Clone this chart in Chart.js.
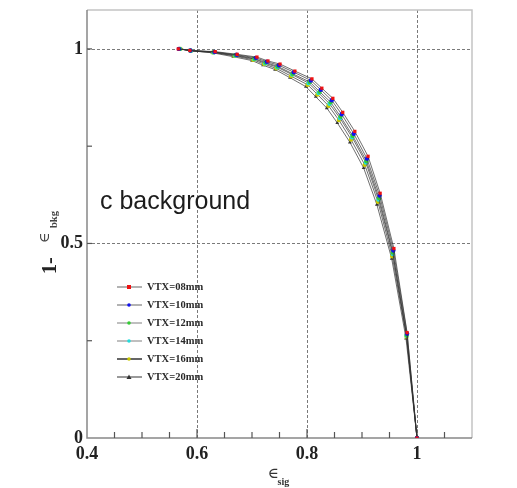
<!DOCTYPE html>
<html>
<head>
<meta charset="utf-8">
<script src="https://cdn.jsdelivr.net/npm/chart.js@4.4.1/dist/chart.umd.min.js"></script>
<style>
  html, body { margin: 0; padding: 0; background: #fff; }
  canvas { display: block; }
</style>
</head>
<body>
<canvas id="effChart" width="517" height="488"></canvas>
<script>
// series labels (VTX cut)
const seriesLabels = ['VTX=08mm', 'VTX=10mm', 'VTX=12mm', 'VTX=14mm', 'VTX=16mm', 'VTX=20mm'];

// signal efficiency (x) and 1 - background efficiency (y)
const x08 = [0.566, 0.587, 0.633, 0.673, 0.709, 0.729, 0.751, 0.778, 0.809, 0.827, 0.847, 0.865, 0.887, 0.911, 0.933, 0.958, 0.982, 1.0];
const y08 = [1.0, 0.996, 0.993, 0.986, 0.979, 0.969, 0.961, 0.943, 0.923, 0.899, 0.873, 0.837, 0.788, 0.724, 0.629, 0.487, 0.271, 0.0];

const x10 = [0.567, 0.588, 0.632, 0.672, 0.707, 0.727, 0.749, 0.776, 0.807, 0.825, 0.845, 0.863, 0.885, 0.909, 0.932, 0.957, 0.982, 1.0];
const y10 = [1.0, 0.996, 0.992, 0.985, 0.977, 0.967, 0.958, 0.940, 0.919, 0.895, 0.868, 0.832, 0.782, 0.718, 0.623, 0.482, 0.268, 0.0];

const x12 = [0.568, 0.588, 0.631, 0.670, 0.705, 0.725, 0.747, 0.774, 0.805, 0.823, 0.843, 0.861, 0.883, 0.908, 0.931, 0.956, 0.981, 1.0];
const y12 = [1.0, 0.996, 0.992, 0.984, 0.975, 0.965, 0.955, 0.936, 0.915, 0.890, 0.863, 0.826, 0.777, 0.712, 0.617, 0.477, 0.265, 0.0];

const x14 = [0.569, 0.589, 0.630, 0.669, 0.704, 0.724, 0.746, 0.773, 0.803, 0.821, 0.841, 0.860, 0.882, 0.907, 0.930, 0.956, 0.981, 1.0];
const y14 = [1.0, 0.995, 0.991, 0.983, 0.974, 0.963, 0.953, 0.934, 0.912, 0.887, 0.859, 0.822, 0.773, 0.708, 0.613, 0.473, 0.263, 0.0];

const x16 = [0.570, 0.589, 0.629, 0.668, 0.702, 0.722, 0.744, 0.771, 0.801, 0.819, 0.839, 0.858, 0.880, 0.905, 0.929, 0.955, 0.981, 1.0];
const y16 = [1.0, 0.995, 0.991, 0.982, 0.972, 0.961, 0.950, 0.930, 0.908, 0.883, 0.854, 0.817, 0.767, 0.702, 0.607, 0.467, 0.260, 0.0];

const x20 = [0.571, 0.590, 0.628, 0.666, 0.700, 0.720, 0.742, 0.769, 0.798, 0.816, 0.836, 0.855, 0.878, 0.903, 0.927, 0.954, 0.980, 1.0];
const y20 = [1.0, 0.995, 0.990, 0.980, 0.970, 0.958, 0.947, 0.926, 0.903, 0.877, 0.848, 0.810, 0.760, 0.694, 0.600, 0.461, 0.256, 0.0];

// axis tick labels
const xTickLabels = [0.4, 0.6, 0.8, 1];
const yTickLabels = [0, 0.5, 1];

const seriesX = [x08, x10, x12, x14, x16, x20];
const seriesY = [y08, y10, y12, y14, y16, y20];
const markerColors = ['#ee1111', '#1111ee', '#33cc33', '#22dddd', '#c8c800', '#333333'];
const markerStyles = ['rect', 'circle', 'circle', 'circle', 'circle', 'triangle'];
const legendLineColors = ['#999', '#999', '#aaa', '#aaa', '#666', '#777'];

function toPoints(xs, ys) {
    return xs.map((x, i) => ({ x: x, y: ys[i] }));
}

function isMulti(v, step) {
    const r = v / step;
    return Math.abs(r - Math.round(r)) < 1e-6;
}

function fmt(v) {
    return String(Math.round(v * 100) / 100);
}

// frame, dashed grid lines and inward ticks
const framePlugin = {
    id: 'frame',
    beforeDatasetsDraw: (chart) => {
        const { ctx, chartArea, scales } = chart;
        const { left, right, top, bottom } = chartArea;
        ctx.save();

        // dashed grid at labelled values
        ctx.setLineDash([3, 2]);
        ctx.strokeStyle = '#7a7a7a';
        ctx.lineWidth = 1;
        xTickLabels.forEach(v => {
            const px = Math.round(scales.x.getPixelForValue(v)) + 0.5;
            if (px <= left + 1 || px >= right - 1) return;
            ctx.beginPath();
            ctx.moveTo(px, top);
            ctx.lineTo(px, bottom);
            ctx.stroke();
        });
        yTickLabels.forEach(v => {
            const py = Math.round(scales.y.getPixelForValue(v)) + 0.5;
            if (py <= top + 1 || py >= bottom - 1) return;
            ctx.beginPath();
            ctx.moveTo(left, py);
            ctx.lineTo(right, py);
            ctx.stroke();
        });
        ctx.setLineDash([]);

        // top/right frame
        ctx.strokeStyle = '#c4c4c4';
        ctx.lineWidth = 1.5;
        ctx.beginPath();
        ctx.moveTo(left, top);
        ctx.lineTo(right, top);
        ctx.lineTo(right, bottom);
        ctx.stroke();

        // axes
        ctx.strokeStyle = '#888';
        ctx.lineWidth = 1.5;
        ctx.beginPath();
        ctx.moveTo(left, top);
        ctx.lineTo(left, bottom);
        ctx.lineTo(right, bottom);
        ctx.stroke();

        // ticks
        ctx.strokeStyle = '#555';
        ctx.lineWidth = 1.2;
        scales.x.ticks.forEach(t => {
            const px = scales.x.getPixelForValue(t.value);
            if (px <= left + 1 || px >= right - 1) return;
            const len = xTickLabels.some(v => Math.abs(v - t.value) < 1e-6) ? 9 : 6;
            ctx.beginPath();
            ctx.moveTo(px, bottom);
            ctx.lineTo(px, bottom - len);
            ctx.stroke();
        });
        scales.y.ticks.forEach(t => {
            if (!isMulti(t.value, 0.25)) return;
            const py = scales.y.getPixelForValue(t.value);
            if (py <= top + 1 || py >= bottom - 1) return;
            ctx.beginPath();
            ctx.moveTo(left, py);
            ctx.lineTo(left + 5, py);
            ctx.stroke();
        });
        ctx.restore();
    }
};

// label text, axis titles and legend box
const annotationPlugin = {
    id: 'annotations',
    afterDraw: (chart) => {
        const { ctx, chartArea } = chart;
        ctx.save();

        ctx.fillStyle = '#1c1c1c';
        ctx.font = '25px "Liberation Sans"';
        ctx.textAlign = 'left';
        ctx.textBaseline = 'alphabetic';
        ctx.fillText('c background', 100, 209);

        // x title
        const cx = (chartArea.left + chartArea.right) / 2;
        ctx.fillStyle = '#333';
        ctx.font = '15px "DejaVu Serif"';
        ctx.fillText('\u2208', cx - 12, 478);
        ctx.font = 'bold 10px "Liberation Serif"';
        ctx.fillText('sig', cx - 2, 485);

        // y title (rotated)
        ctx.save();
        ctx.translate(56, 274);
        ctx.rotate(-Math.PI / 2);
        ctx.fillStyle = '#222';
        ctx.font = 'bold 20px "Liberation Serif"';
        ctx.fillText('1-', 0, 0);
        ctx.fillStyle = '#444';
        ctx.font = '14px "DejaVu Serif"';
        ctx.fillText('\u2208', 31, -7);
        ctx.font = 'bold 10.5px "Liberation Serif"';
        ctx.fillText('bkg', 46, 1);
        ctx.restore();

        // legend
        const rowY = [287, 305, 323, 341, 359, 377];
        seriesLabels.forEach((label, i) => {
            const y = rowY[i];
            ctx.strokeStyle = legendLineColors[i];
            ctx.lineWidth = i === 4 ? 2 : 1.5;
            ctx.beginPath();
            ctx.moveTo(117, y);
            ctx.lineTo(142, y);
            ctx.stroke();
            ctx.fillStyle = markerColors[i];
            if (markerStyles[i] === 'rect') {
                ctx.fillRect(127, y - 2, 4, 4);
            } else if (markerStyles[i] === 'triangle') {
                ctx.beginPath();
                ctx.moveTo(129, y - 2.5);
                ctx.lineTo(131.5, y + 2);
                ctx.lineTo(126.5, y + 2);
                ctx.closePath();
                ctx.fill();
            } else {
                ctx.beginPath();
                ctx.arc(129, y, 1.8, 0, Math.PI * 2);
                ctx.fill();
            }
            ctx.fillStyle = '#2a2a2a';
            ctx.font = 'bold 10.5px "Liberation Serif"';
            ctx.textBaseline = 'middle';
            ctx.fillText(label, 147, y + 0.5);
            ctx.textBaseline = 'alphabetic';
        });
        ctx.restore();
    }
};

const datasets = seriesLabels.map((label, i) => ({
    label: label,
    data: toPoints(seriesX[i], seriesY[i]),
    showLine: true,
    borderColor: 'rgba(50, 50, 50, 0.7)',
    borderWidth: 1,
    pointStyle: markerStyles[i],
    pointRadius: markerStyles[i] === 'rect' ? 2.3 : 2.2,
    pointBackgroundColor: markerColors[i],
    pointBorderColor: markerColors[i],
    pointBorderWidth: 0,
    order: i
}));

const ctx = document.getElementById('effChart').getContext('2d');
new Chart(ctx, {
    type: 'scatter',
    data: { datasets: datasets },
    options: {
        responsive: false,
        animation: false,
        layout: {
            padding: { left: 0, right: 45, top: 10, bottom: 0 }
        },
        scales: {
            x: {
                type: 'linear',
                min: 0.4,
                max: 1.1,
                afterFit: (scale) => {
                    scale.height = 50;
                    scale.paddingLeft = 0;
                    scale.paddingRight = 0;
                },
                grid: { display: false, drawTicks: false },
                border: { display: false },
                ticks: {
                    stepSize: 0.05,
                    autoSkip: false,
                    maxRotation: 0,
                    padding: 6,
                    color: '#222',
                    font: { family: '"Liberation Serif"', size: 18, weight: 'bold' },
                    callback: function(value) {
                        return xTickLabels.some(v => Math.abs(v - value) < 1e-6) ? fmt(value) : '';
                    }
                }
            },
            y: {
                type: 'linear',
                min: 0,
                max: 1.1,
                afterFit: (scale) => {
                    scale.width = 87;
                    scale.paddingTop = 0;
                    scale.paddingBottom = 0;
                },
                grid: { display: false, drawTicks: false },
                border: { display: false },
                ticks: {
                    stepSize: 0.25,
                    autoSkip: false,
                    padding: 4,
                    color: '#222',
                    font: { family: '"Liberation Serif"', size: 18, weight: 'bold' },
                    callback: function(value) {
                        return yTickLabels.some(v => Math.abs(v - value) < 1e-6) ? fmt(value) : '';
                    }
                }
            }
        },
        plugins: {
            legend: { display: false },
            tooltip: { enabled: false }
        }
    },
    plugins: [framePlugin, annotationPlugin]
});
</script>
</body>
</html>
